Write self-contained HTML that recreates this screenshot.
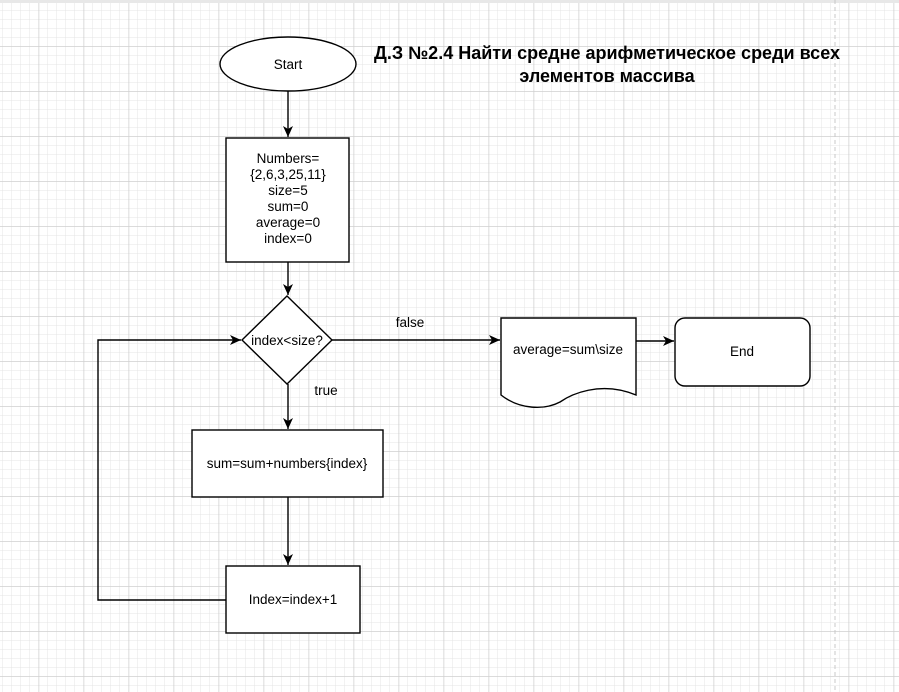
<!DOCTYPE html>
<html><head><meta charset="utf-8"><style>
html,body{margin:0;padding:0;background:#fff}
svg{display:block}
text{font-family:"Liberation Sans",Arial,sans-serif;fill:#000}
</style></head><body>
<svg width="899" height="692" viewBox="0 0 899 692" xmlns="http://www.w3.org/2000/svg">
<defs>
<pattern id="minor" x="2.5" y="1" width="9" height="9" patternUnits="userSpaceOnUse"><path d="M0 0H9M0 0V9" stroke="#e4e4e4" stroke-width="1" fill="none"/></pattern>
<pattern id="major" x="38.5" y="1" width="45" height="45" patternUnits="userSpaceOnUse"><path d="M0 0H45M0 0V45" stroke="#cfcfcf" stroke-width="1.5" fill="none"/></pattern>
<marker id="a" markerWidth="14" markerHeight="14" refX="11" refY="6" orient="auto" markerUnits="userSpaceOnUse"><path d="M0 1L11 6L0 11L3 6Z" fill="#000"/></marker>
</defs>
<rect width="899" height="692" fill="url(#minor)"/>
<rect width="899" height="692" fill="url(#major)"/>
<rect width="899" height="3" fill="#e8e8e8"/>
<line x1="835" y1="0" x2="835" y2="692" stroke="#c8c8c8" stroke-dasharray="4,3"/>
<text x="607" y="59" font-size="18" font-weight="bold" text-anchor="middle">Д.З №2.4  Найти средне арифметическое среди всех</text>
<text x="607" y="82" font-size="18" font-weight="bold" text-anchor="middle">элементов массива</text>
<g stroke="#000" stroke-width="1.4" fill="#fff">
<ellipse cx="288" cy="64" rx="68" ry="27"/>
<rect x="226" y="138" width="123" height="124"/>
<path d="M287 296L332 340L287 384L242 340Z"/>
<rect x="192" y="430" width="191" height="67"/>
<rect x="226" y="566" width="134" height="67"/>
<path d="M501 318H636V395C600 380 570 395 560 402C545 410 520 410 501 395Z"/>
<rect x="675" y="318" width="135" height="68" rx="10"/>
</g>
<g stroke="#000" stroke-width="1.4" fill="none" marker-end="url(#a)">
<line x1="288" y1="91" x2="288" y2="137"/>
<line x1="288" y1="262" x2="288" y2="295"/>
<line x1="288" y1="384" x2="288" y2="429"/>
<line x1="288" y1="497" x2="288" y2="565"/>
<path d="M226 600H98V340H241"/>
<line x1="332" y1="340" x2="500" y2="340"/>
<line x1="636" y1="341" x2="674" y2="341"/>
</g>
<g font-size="13.5" text-anchor="middle">
<text x="288" y="69">Start</text>
<text x="288" y="163">Numbers=</text>
<text x="288" y="179">{2,6,3,25,11}</text>
<text x="288" y="195">size=5</text>
<text x="288" y="211">sum=0</text>
<text x="288" y="227">average=0</text>
<text x="288" y="243">index=0</text>
<text x="287" y="345">index&lt;size?</text>
<text x="287" y="468">sum=sum+numbers{index}</text>
<text x="293" y="604">Index=index+1</text>
<text x="568" y="354">average=sum\size</text>
<text x="742" y="356">End</text>
<text x="410" y="327">false</text>
<text x="326" y="395">true</text>
</g>
</svg>
</body></html>
